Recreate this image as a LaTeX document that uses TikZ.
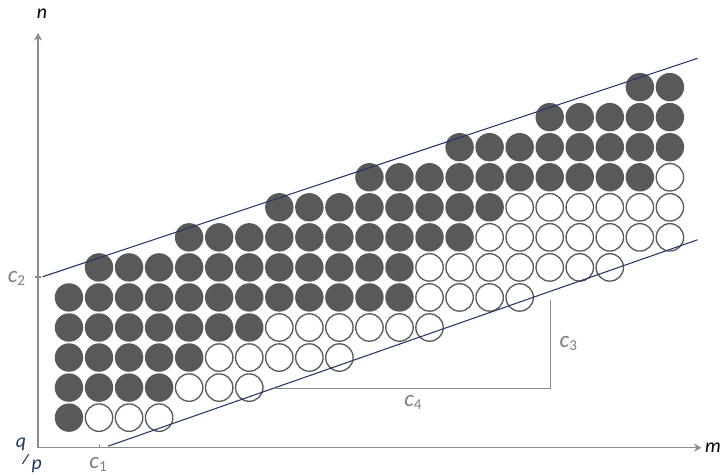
\documentclass[tikz,border=0pt]{standalone}
\usepackage{fontspec}
\setmainfont{Carlito}
\usetikzlibrary{calc,arrows.meta}
\definecolor{navy}{HTML}{1F3864}
\definecolor{dotgray}{HTML}{595959}
\definecolor{axisgray}{HTML}{8C8C8C}
\definecolor{labelgray}{HTML}{7F7F7F}
\newcommand\csub[1]{\raisebox{-0.3ex}{\fontsize{11.5}{11.5}\selectfont\upshape #1}}

\begin{document}
\begin{tikzpicture}[x=0.8cm,y=0.8cm,font=\fontsize{15}{18}\selectfont\itshape,
  dot/.style={circle,fill=dotgray,minimum size=0.757cm,inner sep=0pt},
  hole/.style={circle,draw=dotgray,line width=1pt,minimum size=0.73cm,inner sep=0pt},
  axis/.style={axisgray,line width=1pt,-{Stealth[length=2mm,width=2.2mm]}},
  bound/.style={navy,line width=0.8pt},
  clabel/.style={text=labelgray,inner sep=1pt,font=\fontsize{17.5}{20}\selectfont\itshape}]
\useasboundingbox (-2.296,-1.9) rectangle (21.9,13.9);
% row / first column / last full column / last column
\foreach \j/\a/\b/\e in {0/0/0/3, 1/0/3/6, 2/0/4/9, 3/0/6/12, 4/0/11/15, 5/1/11/18,
  6/4/13/20, 7/7/14/20, 8/10/19/20, 9/13/20/20, 10/16/20/20, 11/19/20/20}
  \foreach \k in {\a,...,\e}{
    \ifnum\k>\b
      \node[hole] (h\k-\j) at (\k,\j) {};
    \else
      \node[dot] (d\k-\j) at (\k,\j) {};
    \fi
  };
% axes
\coordinate (O) at (-1.03,-1);
\coordinate (ytop) at (-1.03,12.8);
\coordinate (xend) at (21.05,-1);
\draw[axis] (O) -- (ytop);
\draw[axis] (O) -- (xend);
\node (n) at (-0.9,13.43) {n};
\node (m) at (21.43,-1) {m};
\node[text=navy] (q) at (-1.6,-0.88) {q};
\node[text=navy] (p) at (-1.07,-1.62) {p};
\draw[navy,line width=0.8pt] (-1.55,-1.54) -- (-1.34,-1.21);
% ticks
\coordinate (t1) at (1,-1);
\coordinate (t2) at (-1.03,4.68);
\draw[axisgray,line width=0.8pt] (t1) -- ++(0,0.12);
\draw[axisgray,line width=0.8pt] ($(t2)+(-0.1,0)$) -- ++(0.2,0);
\node[clabel] (c1) at (0.97,-1.55) {c\csub{1}};
\node[clabel] (c2) at (-1.75,4.64) {c\csub{2}};
% bounding lines
\coordinate (u1) at (-0.875,4.69);
\coordinate (u2) at (20.92,11.96);
\coordinate (l1) at (1.30,-0.95);
\coordinate (l2) at (20.92,5.92);
\draw[bound] (u1) -- (u2);
\draw[bound] (l1) -- (l2);
% c3 / c4 corner
\coordinate (b1) at (16.04,3.93);
\coordinate (b3) at (6.86,0.97);
\draw[axisgray,line width=0.8pt] (b1) |- (b3);
\node[clabel] (c3) at (16.62,2.48) {c\csub{3}};
\node[clabel] (c4) at (11.45,0.5) {c\csub{4}};
\end{tikzpicture}
\end{document}
